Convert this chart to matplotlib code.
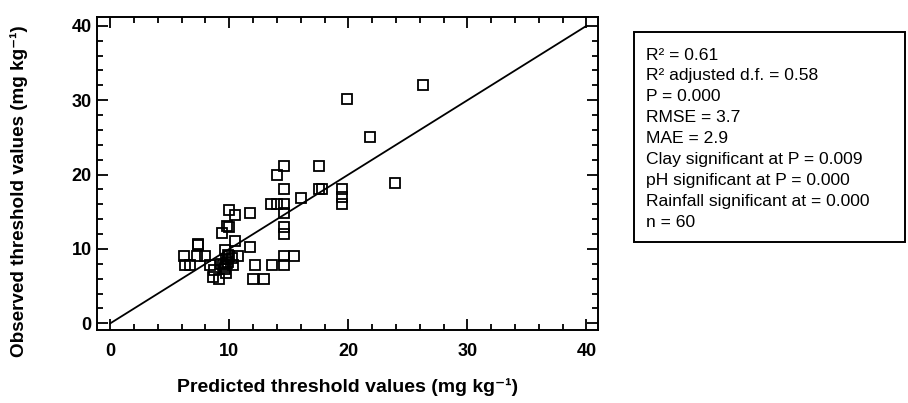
import numpy as np
import matplotlib
matplotlib.use('Agg')
import matplotlib.pyplot as plt
from matplotlib.ticker import MultipleLocator
from matplotlib.patches import Rectangle

plt.rcParams['font.family'] = ['Liberation Sans', 'DejaVu Sans']

predicted = [26.3, 19.9, 21.8, 23.9, 14.6, 17.5, 14.0, 14.6, 17.5, 17.8,
             16.0, 19.5, 19.5, 19.5, 13.5, 14.0, 14.6, 14.6, 14.6, 14.6,
             14.6, 15.4, 14.6, 13.6, 12.2, 12.0, 12.9, 11.7, 11.7, 10.0,
             10.5, 9.8, 10.0, 9.4, 10.5, 7.4, 7.4, 9.6, 9.9, 10.7,
             10.3, 9.8, 9.6, 9.7, 9.1, 8.6, 8.4, 8.0, 7.3, 6.2,
             6.3, 6.7, 9.3, 10.0, 9.6, 8.7, 9.7, 9.9, 9.5, 10.2]
observed = [32.1, 30.1, 25.1, 18.9, 21.1, 21.1, 20.0, 18.0, 18.0, 18.0,
            16.9, 18.0, 17.0, 16.0, 16.0, 16.0, 16.0, 14.9, 13.0, 12.0,
            9.0, 9.0, 7.9, 7.9, 7.9, 5.9, 5.9, 14.8, 10.3, 15.3,
            14.6, 13.1, 13.0, 12.1, 11.1, 10.7, 10.6, 9.9, 9.2, 9.0,
            7.9, 8.1, 7.6, 6.8, 5.9, 6.3, 7.9, 9.0, 9.0, 9.0,
            7.9, 7.9, 8.0, 9.0, 7.3, 7.2, 8.6, 8.3, 7.8, 8.8]

line_x = [0, 40]
line_y = [0, 40]

stats_lines = ['R\u00b2 = 0.61',
               'R\u00b2 adjusted d.f. = 0.58',
               'P = 0.000',
               'RMSE = 3.7',
               'MAE = 2.9',
               'Clay significant at P = 0.009',
               'pH significant at P = 0.000',
               'Rainfall significant at = 0.000',
               'n = 60']

fig = plt.figure(figsize=(9.08, 4.03), dpi=100)
ax = fig.add_axes([0.107, 0.181, 0.552, 0.777])

ax.plot(predicted, observed, linestyle='none', marker='s', markersize=6.5,
        markerfacecolor='none', markeredgecolor='black', markeredgewidth=1.3)
ax.plot(line_x, line_y, color='black', linewidth=1.3)

ax.set_xlim(-1.1, 41.0)
ax.set_ylim(-0.9, 41.2)
ax.xaxis.set_major_locator(MultipleLocator(10))
ax.xaxis.set_minor_locator(MultipleLocator(2))
ax.yaxis.set_major_locator(MultipleLocator(10))
ax.yaxis.set_minor_locator(MultipleLocator(2))
ax.tick_params(which='both', direction='in', top=True, right=True, width=1.3)
ax.tick_params(which='major', length=8, labelsize=13)
ax.tick_params(which='minor', length=4)
ax.tick_params(axis='x', which='major', pad=9)
ax.tick_params(axis='y', which='major', pad=4)
for lab in ax.get_xticklabels() + ax.get_yticklabels():
    lab.set_fontweight('bold')
for sp in ax.spines.values():
    sp.set_linewidth(1.4)

ax.set_xlabel('Predicted threshold values (mg kg\u207b\u00b9)', fontsize=14,
              fontweight='bold')
ax.set_ylabel('Observed threshold values (mg kg\u207b\u00b9)', fontsize=13.6,
              fontweight='bold')
ax.xaxis.set_label_coords(0.5, -0.155)
ax.yaxis.set_label_coords(-0.138, 0.445)

## Statistics box
fig.add_artist(Rectangle((0.698, 0.3995), 0.2985, 0.521, transform=fig.transFigure,
                         facecolor='white', edgecolor='black', linewidth=1.4))
fig.text(0.712, 0.882, '\n'.join(stats_lines), fontsize=12.6, va='top', ha='left',
         linespacing=1.49)

fig.savefig('out.png', dpi=100)
